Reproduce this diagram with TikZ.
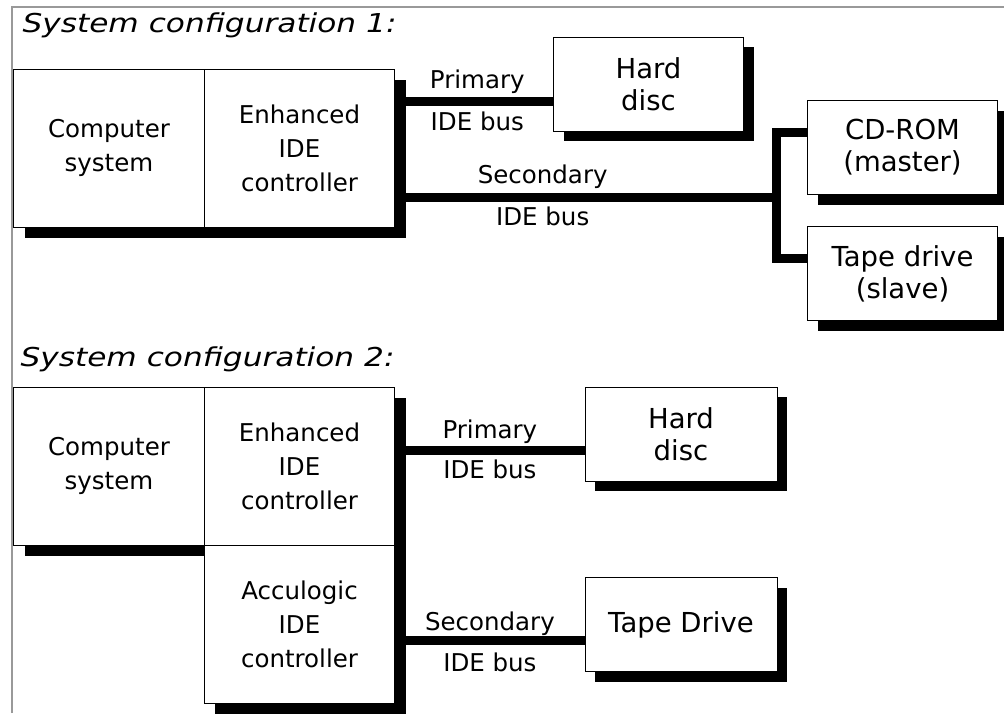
\documentclass[tikz,border=0pt]{standalone}
\usepackage{graphicx}
\usepackage{fontspec}
\setmainfont{DejaVu Sans}
\usetikzlibrary{positioning,shadows}

\begin{document}
\begin{tikzpicture}[x=1pt,y=-1pt,
  unit/.style={draw=black, line width=0.8pt, fill=white, inner sep=0pt, outer sep=0pt, align=center,
    drop shadow={shadow xshift=#1pt, shadow yshift=-#1pt, fill=black, opacity=1}},
  mainbox/.style={unit=11, minimum width=190.5pt, minimum height=158pt, font=\fontsize{24.5}{34}\selectfont},
  devbox/.style={unit=10, minimum width=190pt, minimum height=94pt, font=\fontsize{27.5}{32}\selectfont},
  bus/.style={line width=9pt, line join=miter},
  buslbl/.style={font=\fontsize{24.5}{30}\selectfont, anchor=base},
  title/.style={font=\fontsize{26}{30}\selectfont\itshape, anchor=base west}]
\useasboundingbox (0,0) rectangle (1004,713);
\draw[gray!80, line width=1.5pt] (12,713) -- (12,7) -- (1004,7);

\node[title] (t1) at (19,32) {\scalebox{1.2}[1]{System configuration 1:}};
\node[mainbox] (comp1) at (109,148) {Computer\\system};
\node[mainbox, right=0pt of comp1] (enh1) {Enhanced\\IDE\\controller};
\node[devbox] (hd1) at (648.5,84) {Hard\\disc};
\node[devbox] (cd1) at (902.5,147.5) {CD-ROM\\(master)};
\node[devbox, below=32pt of cd1] (tape1) {Tape drive\\(slave)};
\coordinate (pb1) at (478,101);
\coordinate (sb1) at (776,197);
\coordinate (cdtap) at (776,132);
\coordinate (tptap) at (776,258);
\draw[bus] (enh1.east |- pb1) -- (hd1.west |- pb1)
  node[buslbl, pos=0.52, yshift=13pt] {Primary}
  node[buslbl, pos=0.52, yshift=-29pt] {IDE bus};
\draw[bus] (enh1.east |- sb1) -- (sb1)
  node[buslbl, pos=0.388, yshift=14pt] {Secondary}
  node[buslbl, pos=0.388, yshift=-28pt] {IDE bus};
\draw[bus] (cd1.west |- cdtap) -- (cdtap) -- (tptap) -- (tape1.west |- tptap);

\node[title] (t2) at (17,366) {\scalebox{1.2}[1]{System configuration 2:}};
\node[mainbox] (comp2) at (109,466) {Computer\\system};
\node[mainbox, right=0pt of comp2] (enh2) {Enhanced\\IDE\\controller};
\node[mainbox, below=0pt of enh2] (acu2) {Acculogic\\IDE\\controller};
\node[devbox, minimum width=192pt] (hd2) at (681,434) {Hard\\disc};
\node[devbox, minimum width=192pt] (tape2) at (681,624.5) {Tape Drive};
\coordinate (pb2) at (490,450);
\coordinate (sb2) at (490,640.5);
\draw[bus] (enh2.east |- pb2) -- (hd2.west |- pb2)
  node[buslbl, pos=0.5, yshift=12pt] {Primary}
  node[buslbl, pos=0.5, yshift=-28pt] {IDE bus};
\draw[bus] (acu2.east |- sb2) -- (tape2.west |- sb2)
  node[buslbl, pos=0.5, yshift=10.5pt] {Secondary}
  node[buslbl, pos=0.5, yshift=-30.5pt] {IDE bus};
\end{tikzpicture}
\end{document}
